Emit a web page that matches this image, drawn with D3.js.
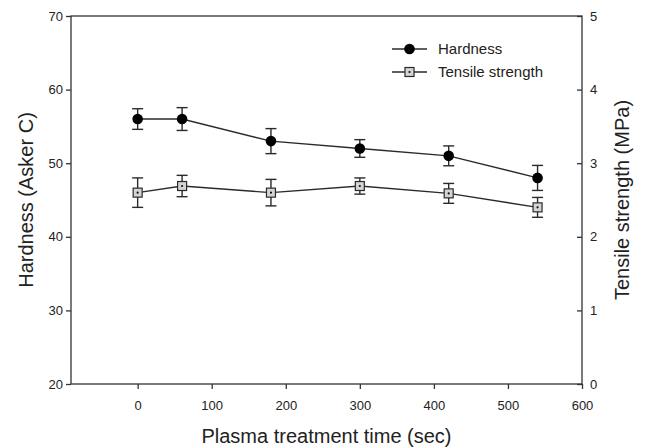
<!DOCTYPE html>
<html>
<head>
<meta charset="utf-8">
<script src="https://cdn.jsdelivr.net/npm/d3@7"></script>
<style>
  body { margin: 0; background: #fff; }
  text { font-family: "Liberation Sans", Arial, sans-serif; fill: #222; }
</style>
</head>
<body>
<div id="chart"></div>
<script>
// plasma treatment time (sec)
const times = [0, 60, 180, 300, 420, 540];
// hardness (Asker C), left axis
const hardness = [56, 56, 53, 52, 51, 48];
const hardnessErr = [1.4, 1.55, 1.7, 1.2, 1.35, 1.7];
// tensile strength (MPa), right axis
const tensile = [2.6, 2.69, 2.6, 2.69, 2.59, 2.4];
const tensileErr = [0.2, 0.145, 0.18, 0.11, 0.135, 0.135];

const xTicks = [0, 100, 200, 300, 400, 500, 600];
const leftTicks = [20, 30, 40, 50, 60, 70];
const rightTicks = [0, 1, 2, 3, 4, 5];

const width = 645, height = 448;
const m = { left: 71, right: 582, top: 16, bottom: 384 };

const svg = d3.select("#chart").append("svg")
  .attr("width", width)
  .attr("height", height);

const x = d3.scaleLinear().domain([-90, 600]).range([m.left, m.right]);
const yL = d3.scaleLinear().domain([20, 70]).range([m.bottom, m.top]);
const yR = d3.scaleLinear().domain([0, 5]).range([m.bottom, m.top]);

const axisColor = "#333";

// kantlinje runt plotten
svg.append("rect")
  .attr("x", m.left).attr("y", m.top)
  .attr("width", m.right - m.left).attr("height", m.bottom - m.top)
  .attr("fill", "none").attr("stroke", axisColor).attr("stroke-width", 1.3);

const xAxis = svg.append("g")
  .attr("transform", `translate(0,${m.bottom})`)
  .call(d3.axisBottom(x).tickValues(xTicks).tickSize(5).tickPadding(12));

const leftAxis = svg.append("g")
  .attr("transform", `translate(${m.left},0)`)
  .call(d3.axisLeft(yL).tickValues(leftTicks).tickSize(5).tickPadding(3));

const rightAxis = svg.append("g")
  .attr("transform", `translate(${m.right},0)`)
  .call(d3.axisRight(yR).tickValues(rightTicks).tickFormat(d3.format("d"))
    .tickSize(-5).tickPadding(8));

[xAxis, leftAxis, rightAxis].forEach(a => {
  a.select(".domain").remove();
  a.selectAll("line").attr("stroke", axisColor).attr("stroke-width", 1.3);
  a.selectAll("text")
    .style("font-family", '"Liberation Sans", Arial, sans-serif')
    .style("font-size", "13px")
    .attr("fill", "#222");
});

// axeltitlar
svg.append("text")
  .attr("x", (m.left + m.right) / 2).attr("y", 443)
  .attr("text-anchor", "middle")
  .style("font-size", "20px")
  .text("Plasma treatment time (sec)");

svg.append("text")
  .attr("transform", `translate(33,${(m.top + m.bottom) / 2}) rotate(-90)`)
  .attr("text-anchor", "middle")
  .style("font-size", "20px")
  .text("Hardness (Asker C)");

svg.append("text")
  .attr("transform", `translate(629,${(m.top + m.bottom) / 2}) rotate(-90)`)
  .attr("text-anchor", "middle")
  .style("font-size", "20px")
  .text("Tensile strength (MPa)");

const lineColor = "#2a2a2a";

function drawSeries(values, errs, y, kind) {
  const pts = times.map((t, i) => ({ t, v: values[i], e: errs[i] }));

  svg.append("path")
    .datum(pts)
    .attr("fill", "none")
    .attr("stroke", lineColor)
    .attr("stroke-width", 1.4)
    .attr("d", d3.line().x(d => x(d.t)).y(d => y(d.v)));

  const eb = svg.append("g").selectAll("g")
    .data(pts).enter().append("g")
    .attr("stroke", lineColor).attr("stroke-width", 1.4);

  eb.append("line")
    .attr("x1", d => x(d.t)).attr("x2", d => x(d.t))
    .attr("y1", d => y(d.v - d.e)).attr("y2", d => y(d.v + d.e));
  eb.append("line")
    .attr("x1", d => x(d.t) - 5.5).attr("x2", d => x(d.t) + 5.5)
    .attr("y1", d => y(d.v + d.e)).attr("y2", d => y(d.v + d.e));
  eb.append("line")
    .attr("x1", d => x(d.t) - 5.5).attr("x2", d => x(d.t) + 5.5)
    .attr("y1", d => y(d.v - d.e)).attr("y2", d => y(d.v - d.e));

  drawMarkers(svg.append("g"), pts, d => x(d.t), d => y(d.v), kind);
}

function drawMarkers(g, pts, fx, fy, kind) {
  if (kind === "circle") {
    g.selectAll("circle").data(pts).enter().append("circle")
      .attr("cx", fx).attr("cy", fy).attr("r", 5.3)
      .attr("fill", "#000");
  } else {
    g.selectAll("rect").data(pts).enter().append("rect")
      .attr("x", d => fx(d) - 4.5).attr("y", d => fy(d) - 4.5)
      .attr("width", 9).attr("height", 9)
      .attr("fill", "#d4d4d4").attr("stroke", lineColor).attr("stroke-width", 1.2);
    g.selectAll("circle").data(pts).enter().append("circle")
      .attr("cx", fx).attr("cy", fy).attr("r", 1.1)
      .attr("fill", "#111");
  }
}

drawSeries(hardness, hardnessErr, yL, "circle");
drawSeries(tensile, tensileErr, yR, "square");

// legend
const legend = [
  { name: "Hardness", kind: "circle", y: 49 },
  { name: "Tensile strength", kind: "square", y: 72 }
];
legend.forEach(l => {
  svg.append("line")
    .attr("x1", 392).attr("x2", 427)
    .attr("y1", l.y).attr("y2", l.y)
    .attr("stroke", lineColor).attr("stroke-width", 1.4);
  drawMarkers(svg.append("g"), [l], () => 409.5, () => l.y, l.kind);
  svg.append("text")
    .attr("x", 438).attr("y", l.y + 5)
    .style("font-size", "15px")
    .text(l.name);
});
</script>
</body>
</html>
